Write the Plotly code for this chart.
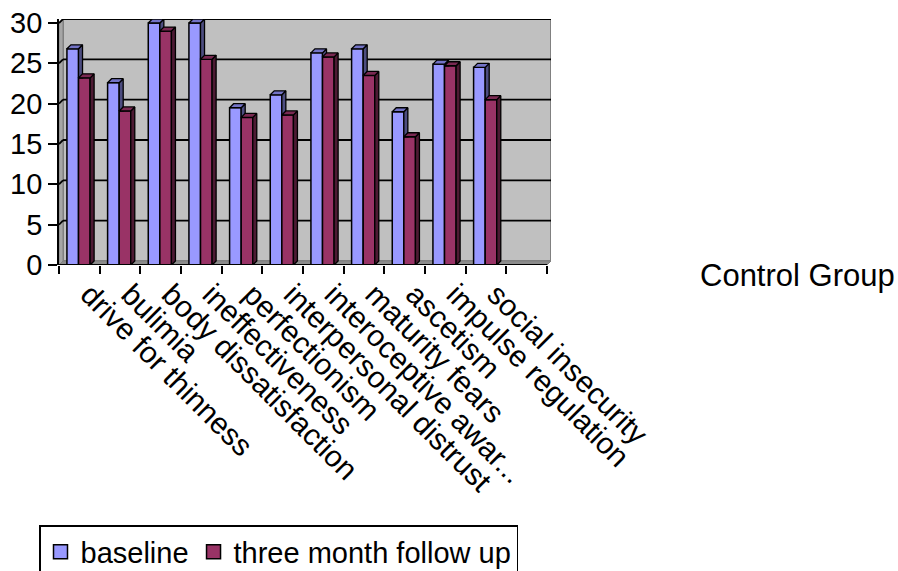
import plotly.graph_objects as go

# EDI subscale scores for the control group
categories = [
    "drive for thinness", "bulimia", "body dissatisfaction", "ineffectiveness",
    "perfectionism", "interpersonal distrust", "interoceptive awar...",
    "maturity fears", "ascetism", "impulse regulation", "social insecurity",
]
baseline = [26.8, 22.6, 30.0, 30.0, 19.5, 21.1, 26.3, 26.8, 19.0, 24.9, 24.5]
follow_up = [23.2, 19.1, 29.0, 25.5, 18.3, 18.6, 25.8, 23.5, 15.9, 24.7, 20.5]
series_names = ["baseline", "three month follow up"]
y_ticks = [0, 5, 10, 15, 20, 25, 30]

BLUE, BLUE_TOP, BLUE_SIDE = "#9999FF", "#7373C6", "#4D4D80"
RED, RED_TOP, RED_SIDE = "#993366", "#7A2952", "#4D1A33"
FONT = "Liberation Sans, Arial, sans-serif"

# plot-area geometry (pixels) used to convert the 3-D depth offset to data units
W, H = 898, 571
ML, MR, MT, MB = 59, 347, 19, 306
n_slots = len(categories) + 1          # one empty slot after the last group
px_per_x = (W - ML - MR) / (n_slots + 0.1)
depth_px = 4
dx = depth_px / px_per_x
y_span = H - MT - MB
y_max = 30 / (1 - depth_px / y_span)
dy = y_max - 30

x_lo, x_hi = -0.5, n_slots - 0.5
bw = 0.285                              # bar width in category units
shift = -0.02

idx = list(range(len(categories)))
xb = [i + shift - bw / 2 for i in idx]
xr = [i + shift + bw / 2 for i in idx]

fig = go.Figure()

# front faces
fig.add_trace(go.Bar(x=xb, y=baseline, width=bw, name=series_names[0], showlegend=False,
                     marker=dict(color=BLUE, line=dict(color="black", width=1.5)),
                     hoverinfo="skip"))
fig.add_trace(go.Bar(x=xr, y=follow_up, width=bw, name=series_names[1], showlegend=False,
                     marker=dict(color=RED, line=dict(color="black", width=1.5)),
                     hoverinfo="skip"))


def faces(xc, tops, low=None):
    """Top and right-side polygons of extruded columns."""
    top_x, top_y, side_x, side_y = [], [], [], []
    for k, (c, v) in enumerate(zip(xc, tops)):
        x0, x1 = c - bw / 2, c + bw / 2
        top_x += [x0, x1, x1 + dx, x0 + dx, x0, None]
        top_y += [v, v, v + dy, v + dy, v, None]
        b = 0 if low is None else min(low[k], v)
        b2 = dy if low is None else b
        side_x += [x1, x1, x1 + dx, x1 + dx, x1, None]
        side_y += [b, v, v + dy, b2, b, None]
    return top_x, top_y, side_x, side_y


bt_x, bt_y, bs_x, bs_y = faces(xb, baseline, low=follow_up)
rt_x, rt_y, rs_x, rs_y = faces(xr, follow_up)

for fx, fy, col in [(bs_x, bs_y, BLUE_SIDE), (bt_x, bt_y, BLUE_TOP),
                    (rs_x, rs_y, RED_SIDE), (rt_x, rt_y, RED_TOP)]:
    fig.add_trace(go.Scatter(x=fx, y=fy, mode="lines", fill="toself",
                             fillcolor=col, line=dict(color="black", width=1.3),
                             showlegend=False, hoverinfo="skip"))

# square legend keys for the two series
for name, col in zip(series_names, [BLUE, RED]):
    fig.add_trace(go.Scatter(x=[None], y=[None], mode="markers", name=name,
                             marker=dict(symbol="square", size=14, color=col,
                                         line=dict(color="black", width=1.5)),
                             hoverinfo="skip"))

# walls, floor and gridlines of the 3-D box
shapes = [
    dict(type="rect", xref="x", yref="y", x0=x_lo + dx, x1=x_hi + dx, y0=dy, y1=y_max,
         fillcolor="#C0C0C0", line=dict(color="#808080", width=2), layer="below"),
    dict(type="path", xref="x", yref="y",
         path=f"M{x_lo},0 L{x_lo},{30} L{x_lo + dx},{y_max} L{x_lo + dx},{dy} Z",
         fillcolor="#A6A6A6", line=dict(color="#808080", width=1), layer="below"),
    dict(type="path", xref="x", yref="y",
         path=f"M{x_lo},0 L{x_hi},0 L{x_hi + dx},{dy} L{x_lo + dx},{dy} Z",
         fillcolor="#8C8C8C", line=dict(color="#808080", width=1), layer="below"),
]
for v in y_ticks[1:]:
    shapes.append(dict(type="line", xref="x", yref="y", x0=x_lo + dx, x1=x_hi + dx,
                       y0=v + dy, y1=v + dy, line=dict(color="black", width=1.8),
                       layer="below"))
    shapes.append(dict(type="line", xref="x", yref="y", x0=x_lo, x1=x_lo + dx,
                       y0=v, y1=v + dy, line=dict(color="black", width=1.8),
                       layer="below"))
shapes.append(dict(type="line", xref="x", yref="y", x0=x_lo, x1=x_hi, y0=0, y1=0,
                   line=dict(color="black", width=1.8)))

# boundary tick marks on an overlaid axis
fig.add_trace(go.Scatter(x=[x_lo], y=[None], xaxis="x2", showlegend=False,
                         hoverinfo="skip"))

fig.update_layout(
    width=W, height=H,
    margin=dict(l=ML, r=MR, t=MT, b=MB, pad=0, autoexpand=False),
    paper_bgcolor="white", plot_bgcolor="white",
    barmode="overlay",
    font=dict(family=FONT, size=30, color="black"),
    shapes=shapes,
    xaxis=dict(range=[x_lo, x_hi + dx], tickmode="array", tickvals=idx,
               ticktext=categories, tickangle=45, ticks="", showgrid=False,
               zeroline=False, showline=False, automargin=False,
               tickfont=dict(size=30), ticklabelshift=10, ticklabelstandoff=5),
    xaxis2=dict(range=[x_lo, x_hi + dx], overlaying="x", anchor="y", side="bottom",
                tickmode="array", tickvals=[b - 0.5 for b in range(n_slots + 1)],
                ticks="outside", ticklen=8, tickwidth=1.8, tickcolor="black",
                showticklabels=False, showgrid=False, zeroline=False, showline=False),
    yaxis=dict(range=[0, y_max], tickmode="array", tickvals=y_ticks,
               ticks="outside", ticklen=9, tickwidth=1.8, tickcolor="black",
               showline=True, linecolor="black", linewidth=1.8, showgrid=False,
               zeroline=False, automargin=False, tickfont=dict(size=29)),
    legend=dict(orientation="h", x=(39 - ML) / (W - ML - MR), y=(H - MB - 525) / y_span,
                xanchor="left", yanchor="top", bordercolor="black", borderwidth=1.5,
                bgcolor="white", font=dict(size=29), traceorder="normal"),
    annotations=[dict(text="Control Group", xref="paper", yref="paper",
                      x=(698 - ML) / (W - ML - MR), y=(H - MB - 275) / y_span,
                      xanchor="left", yanchor="middle", showarrow=False,
                      font=dict(size=31))],
)

fig.write_html("out.html")
